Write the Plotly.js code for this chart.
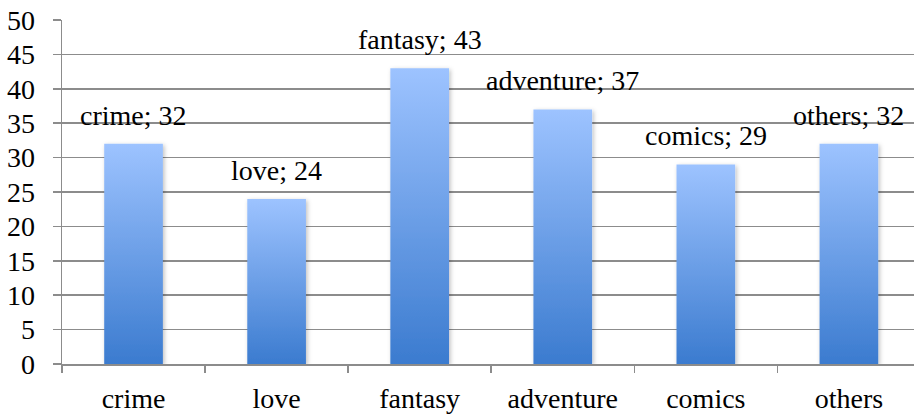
<!DOCTYPE html>
<html>
<head>
<meta charset="utf-8">
<script src="https://cdn.plot.ly/plotly-3.0.1.min.js"></script>
<style>
html,body{margin:0;padding:0;background:#fff;}
#chart{width:914px;height:414px;}
</style>
</head>
<body>
<div id="chart"></div>
<script>
const categories = ["crime", "love", "fantasy", "adventure", "comics", "others"];
const values = [32, 24, 43, 37, 29, 32];
const yTicks = [0, 5, 10, 15, 20, 25, 30, 35, 40, 45, 50];

const labels = categories.map((c, i) => c + "; " + values[i]);
const FONT = "'Liberation Serif', 'DejaVu Serif', serif";

const trace = {
  type: "bar",
  x: categories,
  y: values,
  cliponaxis: false,
  marker: {color: "#6a9fe8", line: {width: 0}},
  hoverinfo: "none"
};

const annotations = categories.map((c, i) => ({
  x: c,
  y: values[i],
  xref: "x",
  yref: "y",
  text: labels[i],
  showarrow: false,
  xanchor: "center",
  yanchor: "bottom",
  yshift: 11,
  font: {family: FONT, size: 28, color: "#000"}
}));

const layout = {
  width: 914,
  height: 414,
  margin: {l: 62, r: 0, t: 20, b: 50},
  paper_bgcolor: "#fff",
  plot_bgcolor: "#fff",
  showlegend: false,
  bargap: 0.59,
  font: {family: FONT, size: 27, color: "#000"},
  annotations: annotations,
  xaxis: {
    range: [-0.5, 5.455],
    showgrid: false,
    showline: true,
    linecolor: "#8c8c8c",
    linewidth: 1.5,
    ticks: "outside",
    tickson: "boundaries",
    ticklen: 7,
    tickwidth: 1.5,
    tickcolor: "#8c8c8c",
    ticklabelstandoff: 9,
    tickfont: {family: FONT, size: 28, color: "#000"},
    fixedrange: true
  },
  yaxis: {
    range: [0, 50],
    tickvals: yTicks,
    ticktext: yTicks.map(String),
    showgrid: true,
    gridcolor: "#8c8c8c",
    gridwidth: 1.5,
    zeroline: false,
    showline: true,
    linecolor: "#8c8c8c",
    linewidth: 1.5,
    ticks: "outside",
    ticklen: 8,
    tickwidth: 1.5,
    tickcolor: "#8c8c8c",
    ticklabelstandoff: 12,
    tickfont: {family: FONT, size: 28, color: "#000"},
    fixedrange: true
  }
};

Plotly.newPlot("chart", [trace], layout, {displayModeBar: false, staticPlot: true}).then(function (gd) {
  const svg = gd.querySelector("svg.main-svg");
  const NS = "http://www.w3.org/2000/svg";
  let defs = svg.querySelector("defs");
  if (!defs) { defs = document.createElementNS(NS, "defs"); svg.insertBefore(defs, svg.firstChild); }
  const grad = document.createElementNS(NS, "linearGradient");
  grad.setAttribute("id", "barGrad");
  grad.setAttribute("x1", "0"); grad.setAttribute("y1", "0");
  grad.setAttribute("x2", "0"); grad.setAttribute("y2", "1");
  [["0%", "#9dc3ff"], ["100%", "#3b7bcf"]].forEach(function (s) {
    const st = document.createElementNS(NS, "stop");
    st.setAttribute("offset", s[0]);
    st.setAttribute("stop-color", s[1]);
    grad.appendChild(st);
  });
  defs.appendChild(grad);
  const filt = document.createElementNS(NS, "filter");
  filt.setAttribute("id", "barShadow");
  filt.setAttribute("x", "-20%"); filt.setAttribute("y", "-20%");
  filt.setAttribute("width", "140%"); filt.setAttribute("height", "140%");
  const ds = document.createElementNS(NS, "feDropShadow");
  ds.setAttribute("dx", "1.5"); ds.setAttribute("dy", "1.5");
  ds.setAttribute("stdDeviation", "2");
  ds.setAttribute("flood-color", "#000");
  ds.setAttribute("flood-opacity", "0.25");
  filt.appendChild(ds);
  defs.appendChild(filt);
  gd.querySelectorAll(".trace.bars .point path").forEach(function (p) {
    p.style.fill = "url(#barGrad)";
    p.setAttribute("filter", "url(#barShadow)");
  });
});
</script>
</body>
</html>
